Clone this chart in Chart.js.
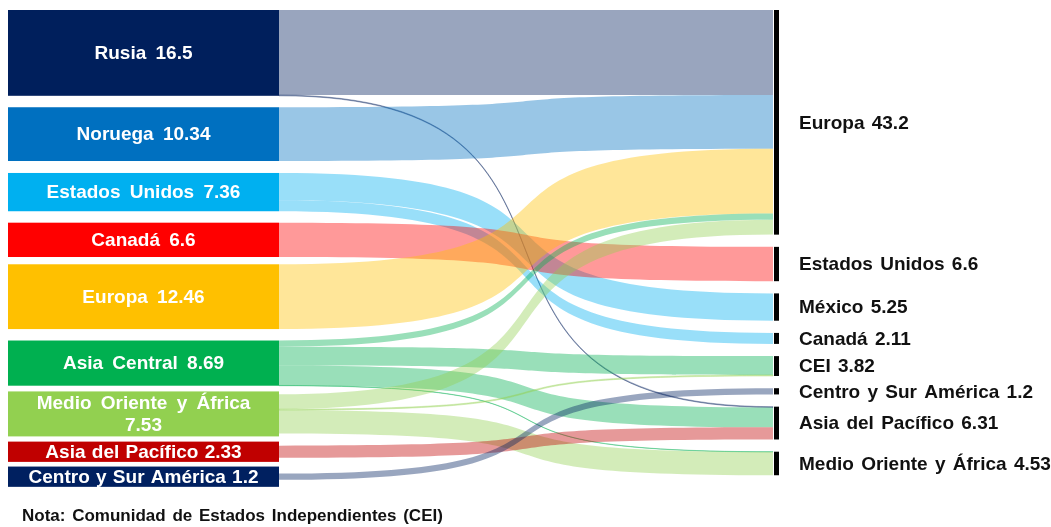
<!DOCTYPE html>
<html>
<head>
<meta charset="utf-8">
<script src="https://cdn.jsdelivr.net/npm/chart.js@4/dist/chart.umd.min.js"></script>
<style>
  body { margin: 0; background: #fff; }
  #wrap { position: relative; width: 1051px; height: 527px; }
  #note {
    position: absolute; left: 22px; top: 506px;
    font: bold 17px "Liberation Sans", Arial, sans-serif; color: #111;
    word-spacing: 2px;
  }
</style>
</head>
<body>
<div id="wrap">
  <canvas id="chart"></canvas>
  <div id="note">Nota: Comunidad de Estados Independientes (CEI)</div>
</div>
<script>
// sources (left)
const sourceNames = ['Rusia', 'Noruega', 'Estados Unidos', 'Canadá', 'Europa', 'Asia Central',
                     'Medio Oriente y África', 'Asia del Pacífico', 'Centro y Sur América'];
const sourceValues = [16.5, 10.34, 7.36, 6.6, 12.46, 8.69, 7.53, 2.33, 1.2];
const sourceColors = ['#001f5c', '#0070c0', '#00b0f0', '#ff0000', '#ffc000', '#00b050',
                      '#92d050', '#c00000', '#002060'];

// targets (right)
const targetNames = ['Europa', 'Estados Unidos', 'México', 'Canadá', 'CEI',
                     'Centro y Sur América', 'Asia del Pacífico', 'Medio Oriente y África'];
const targetValues = [43.2, 6.6, 5.25, 2.11, 3.82, 1.2, 6.31, 4.53];

// flows: source index -> target index
const flowFrom   = [0, 0, 1, 2, 2, 3, 4, 5, 5, 5, 5, 6, 6, 6, 7, 8];
const flowTo     = [0, 6, 0, 2, 3, 1, 0, 0, 4, 6, 7, 0, 4, 7, 6, 5];
const flowValues = [16.35, 0.15, 10.34, 5.25, 2.11, 6.6, 12.46, 1.19, 3.62, 3.83, 0.05,
                    2.85, 0.2, 4.48, 2.33, 1.2];

// layout (in value units)
const leftGaps = [0, 2.2, 2.3, 2.2, 1.4, 2.2, 1.1, 1.0, 0.9];
const leftMinBox = [0, 0, 0, 0, 0, 0, 8.65, 3.9, 3.9];
const rightGap = 2.35;
const yMax = 91.73;
const boxW = 271, flowEnd = 765, xMax = 770;
const curve = 0.75;

function hexToRgba(hex, a) {
  const n = parseInt(hex.slice(1), 16);
  return 'rgba(' + (n >> 16) + ',' + ((n >> 8) & 255) + ',' + (n & 255) + ',' + a + ')';
}

// node positions
const leftNodes = [];
let y = 0;
sourceValues.forEach((v, i) => {
  y += leftGaps[i];
  const h = Math.max(v, leftMinBox[i]);
  leftNodes.push({ top: y, bottom: y + h, flowTop: y + (h - v) / 2, small: h > v * 1.5 });
  y += h;
});
const rightNodes = [];
y = 0;
targetValues.forEach((v, i) => {
  if (i > 0) y += rightGap;
  rightNodes.push({ top: y, bottom: y + v });
  y += v;
});

const sankeyPlugin = {
  id: 'sankey',
  afterDraw(chart) {
    const ctx = chart.ctx;
    const xs = chart.scales.x, ys = chart.scales.y;
    const px = v => xs.getPixelForValue(v);
    const py = v => ys.getPixelForValue(v);
    const font = 'bold 19px "Liberation Sans", Arial, sans-serif';

    // flows
    const outOff = leftNodes.map(n => n.flowTop);
    const inOff = rightNodes.map(n => n.top);
    const x0 = px(boxW), x1 = px(flowEnd);
    const c1 = x0 + (x1 - x0) * curve, c2 = x1 - (x1 - x0) * curve;
    flowValues.forEach((v, k) => {
      const s = flowFrom[k], t = flowTo[k];
      const a0 = py(outOff[s]), a1 = py(outOff[s] + v);
      const b0 = py(inOff[t]), b1 = py(inOff[t] + v);
      outOff[s] += v; inOff[t] += v;
      ctx.save();
      ctx.beginPath();
      ctx.moveTo(x0, a0);
      ctx.bezierCurveTo(c1, a0, c2, b0, x1, b0);
      ctx.lineTo(x1, b1);
      ctx.bezierCurveTo(c2, b1, c1, a1, x0, a1);
      ctx.closePath();
      ctx.fillStyle = hexToRgba(sourceColors[s], 0.4);
      ctx.fill();
      if (v < 0.3) {
        ctx.strokeStyle = hexToRgba(sourceColors[s], 0.35);
        ctx.lineWidth = 1;
        ctx.stroke();
      }
      ctx.restore();
    });

    // left boxes
    ctx.save();
    ctx.font = font;
    leftNodes.forEach((n, i) => {
      const top = py(n.top), bot = py(n.bottom);
      ctx.fillStyle = sourceColors[i];
      ctx.fillRect(px(0), top, px(boxW) - px(0), bot - top);
      ctx.fillStyle = '#fff';
      ctx.textAlign = 'center';
      ctx.textBaseline = 'middle';
      ctx.wordSpacing = n.small ? '1px' : '4px';
      const cx = (px(0) + px(boxW)) / 2;
      const label = sourceNames[i] + ' ' + sourceValues[i];
      if (ctx.measureText(label).width > px(boxW) - px(0) - 16) {
        ctx.fillText(sourceNames[i], cx, (top + bot) / 2 - 10);
        ctx.fillText(String(sourceValues[i]), cx, (top + bot) / 2 + 12);
      } else {
        ctx.fillText(label, cx, (top + bot) / 2 + 1);
      }
    });

    // right bars and labels
    ctx.wordSpacing = '2px';
    rightNodes.forEach((n, i) => {
      const top = py(n.top), bot = py(n.bottom);
      ctx.fillStyle = '#000';
      ctx.fillRect(px(flowEnd) + 1, top, px(xMax) - px(flowEnd), Math.max(bot - top, 2));
      ctx.fillStyle = '#111';
      ctx.textAlign = 'left';
      ctx.textBaseline = 'middle';
      ctx.fillText(targetNames[i] + ' ' + targetValues[i], px(xMax) + 21, (top + bot) / 2 + 1);
    });
    ctx.restore();
  }
};

new Chart(document.getElementById('chart'), {
  type: 'scatter',
  data: { datasets: [{ data: [] }] },
  options: {
    responsive: true,
    maintainAspectRatio: false,
    animation: false,
    layout: { padding: { left: 8, right: 273, top: 10, bottom: 40 } },
    plugins: { legend: { display: false }, tooltip: { enabled: false } },
    scales: {
      x: { type: 'linear', min: 0, max: xMax, display: false },
      y: { type: 'linear', min: 0, max: yMax, reverse: true, display: false }
    }
  },
  plugins: [sankeyPlugin]
});
</script>
</body>
</html>
